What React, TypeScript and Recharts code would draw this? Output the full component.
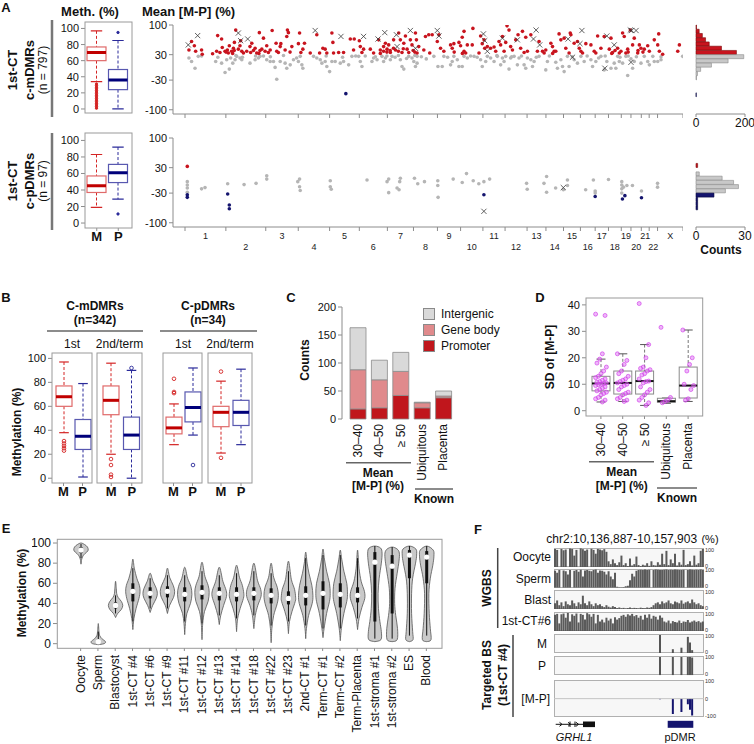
import React from "react";
import {
  BarChart, Bar, ComposedChart, ScatterChart, Scatter, XAxis, YAxis, Cell,
  ReferenceLine, Legend,
} from "recharts";

const FONT = '"Liberation Sans", Arial, Helvetica, sans-serif';

// ---------- Panel A: genome-wide mean [M-P] ----------
const chromNames = ["1","2","3","4","5","6","7","8","9","10","11","12","13","14","15","16","17","18","19","20","21","22","X"];
const chromSizes = [249,243,198,191,181,171,159,146,141,136,135,134,115,107,103,90,81,78,59,63,48,51,155];

// [cumulative position (Mb), mean M-P (%)]
const mdmrRed = [
  [24,41],[40,61],[57,51],[65,38],[101,41],[105,31],[168,32],[199,75],[223,67],[193,38],[213,35],[227,47],[244,38],[258,41],[264,34],[270,51],[284,38],[295,45],[301,59],[309,88],[325,43],[335,51],[339,63],[346,38],[356,34],[376,38],[396,49],[400,35],[407,57],[417,40],[427,45],[437,34],[453,82],[457,40],[468,43],[478,69],[488,38],[498,51],[508,35],[519,41],[531,87],[555,57],[559,38],[569,35],[580,49],[584,56],[610,41],[620,73],[624,88],[630,82],[651,49],[691,56],[698,81],[706,35],[718,43],[728,57],[763,34],[803,77],[820,34],[840,45],[854,43],[864,34],[895,81],[901,59],[905,34],[936,35],[966,35],[1007,67],[1031,67],[1027,41],[1062,63],[1068,49],[1078,35],[1088,43],[1129,43],[1149,34],[1180,65],[1190,41],[1210,49],[1221,57],[1231,43],[1241,53],[1251,35],[1271,65],[1282,41],[1302,81],[1312,65],[1322,35],[1333,57],[1343,74],[1353,43],[1363,35],[1373,65],[1383,53],[1404,81],[1410,65],[1414,34],[1424,49],[1455,41],[1465,73],[1485,77],[1491,34],
  [250,36],[290,33],[300,40],[450,33],[640,36],[1190,33],[1250,40],[1270,45],[1300,38],[1330,44],[1390,40],[1400,36],[1230,36],[1210,38],
  [1506,77],[1547,77],[1537,61],[1557,45],[1577,38],[1618,53],[1628,45],[1638,56],[1669,59],[1679,51],[1689,71],[1700,85],[1700,38],[1710,34],[1720,53],[1750,53],[1754,92],[1791,34],[1801,74],[1811,56],[1822,65],[1826,45],[1842,49],[1862,45],[1883,48],[1893,38],[1913,61],[1923,53],[1934,73],[1944,38],[1954,59],[1962,98],[1974,88],[1984,49],[1995,41],[2015,65],[2029,77],[2045,45],[2056,85],[2066,35],[2076,71],[2086,38],[2107,77],[2147,38],[2157,61],[2178,38],[2198,41],[2188,34],[2229,57],[2239,49],[2249,38],[2259,38],[2279,79],[2290,65],[2310,69],[2320,45],[2340,34],[2347,81],[2351,77],[2371,57],[2391,61],[2402,45],[2412,38],[2422,34],[2442,56],[2473,53],[2493,38],[2503,34],[2514,74],[2534,45],[2554,73],[2585,43],[2595,69],[2605,35],[2636,45],[2646,34],[2656,38],[2666,81],[2676,73],[2686,34],[2697,43],[2713,88],[2727,53],[2737,69],[2758,34],[2768,53],[2778,45],[2798,43],[2819,51],[2829,38],[2859,65],[2880,53],[2886,79],[2890,38],[2910,31],[3002,38],[3012,53],
  [1640,36],[1690,33],[2240,33],[2600,33],[2620,40],[2700,36],[2760,40],[2790,36],
];
const mdmrGrey = [
  [24,22],[40,14],[61,-2],[81,26],[101,27],[187,14],[223,10],[244,-12],[254,18],[270,-4],[278,22],[291,10],[305,18],[315,26],[335,22],[346,18],[396,10],[427,18],[447,22],[457,26],[478,27],[498,18],[519,14],[539,14],[549,0],[559,-28],[580,14],[610,10],[620,-2],[641,6],[661,18],[691,14],[702,26],[712,6],[718,-2],[783,26],[803,22],[824,18],[834,10],[854,14],[864,2],[881,-10],[895,14],[915,14],[946,10],[966,14],[997,6],[1017,26],[1058,26],[1068,14],[1078,2],[1098,27],[1139,14],[1149,22],[1170,18],[1200,26],[1210,14],[1221,22],[1251,18],[1261,26],[1312,18],[1322,2],[1333,-4],[1363,26],[1383,22],[1394,14],[1404,2],[1414,10],[1414,26],
  [200,24],[310,28],[350,24],[430,27],[520,25],[600,28],[680,22],[860,27],[960,24],[1040,27],[1160,25],[1230,27],[1280,24],[1300,28],[1350,21],[1400,28],[1440,25],[1470,20],
  [1516,26],[1541,2],[1567,2],[1577,26],[1618,6],[1628,14],[1638,26],[1659,18],[1669,2],[1689,2],[1700,26],[1720,22],[1761,26],[1801,18],[1811,2],[1832,14],[1842,26],[1862,22],[1883,14],[1903,26],[1923,6],[1934,22],[1944,14],[1954,26],[1974,-4],[1984,22],[2005,26],[2025,6],[2035,22],[2066,6],[2076,-2],[2086,22],[2107,18],[2117,2],[2127,14],[2157,26],[2198,-6],[2208,14],[2259,12],[2269,-2],[2290,18],[2300,2],[2310,-10],[2330,26],[2340,2],[2371,18],[2391,10],[2412,26],[2432,14],[2473,18],[2483,2],[2503,14],[2534,26],[2554,-6],[2570,14],[2595,-2],[2615,10],[2625,-2],[2636,26],[2646,14],[2666,10],[2686,26],[2697,-19],[2717,20],[2727,-2],[2737,14],[2778,10],[2798,26],[2819,14],[2829,6],[2859,14],[2880,14],[2900,18],[3032,26],
  [1600,24],[1740,27],[1780,24],[1900,28],[1990,25],[2050,27],[2140,24],[2220,27],[2360,25],[2450,27],[2520,22],[2560,27],[2650,24],[2700,27],[2750,25],[2850,26],[2900,25],
];
const mdmrKnown = [
  [20,53],[77,75],[325,81],[339,63],[382,67],[793,87],[950,73],[1088,73],[1176,67],[1217,82],[1288,77],[1292,49],[1373,87],[1404,45],
  [1537,87],[1547,74],[1818,79],[1826,63],[1842,38],[1934,69],[2025,65],[2123,67],[2139,88],[2161,53],[2334,67],[2361,24],[2406,56],[2418,87],[2570,74],[2615,53],[2558,-2],[2713,88],[2721,87],[2748,87],[2717,12],
];
const mdmrNeg = [[980,-62]];

const pdmrPos = [[14,33]];
const pdmrBlue = [[14,-34],[14,-40],[260,-32],[270,-58],[270,-67],[1821,-34],[2499,-38],[2665,-44],[2680,-36],[2781,-41]];
const pdmrKnown = [[1821,-73],[2305,-17]];
const pdmrGrey = [
  [14,-3],[14,-11],[14,-18],[14,-28],[101,-20],[122,-17],[260,-8],[360,-10],[433,-7],[498,11],[498,3],[687,-3],[698,3],[698,-15],[702,-24],[885,-1],[891,-21],[885,-15],[1109,1],[1231,-3],[1241,3],[1241,-29],[1292,-18],[1304,-22],[1308,-3],[1312,5],[1398,5],[1418,-8],[1459,-3],[1540,-1],[1540,-12],[1542,-40],[1634,3],[1689,-5],[1715,16],[1756,-1],[1790,-8],[1821,-3],[1856,3],[2081,-7],[2085,-21],[2187,-7],[2203,9],[2203,-28],[2258,-18],[2305,-22],[2330,1],[2330,-12],[2441,-22],[2488,1],[2499,-25],[2499,-30],[2580,2],[2661,-3],[2661,-11],[2661,-20],[2661,-30],[2671,-16],[2692,-12],[2726,-12],[2781,-25],[2879,-7],[2879,-16],
];

// histogram bins (lower bound, 10% wide), counts
const histBins = ["90","80","70","60","50","40","30","20","10","0","-10","-20","-30","-40","-50","-60","-70","-80","-90","-100","-110"];
const mdmrHist = [2,13,26,39,54,104,165,195,131,63,19,6,2,0,0,0,1,0,0,0,0];
const pdmrHist = [0,0,0,0,0,0,1,0,2,16,23,26,18,11,1,1,1,0,0,0,0];

// box stats: [whisker low, Q1, median, Q3, whisker high]
const boxCats = ["M", "P"];
const aMdmrBox = [[34,60,70,77,97],[0,24,36,49,85]];
const aMdmrOut = [[31,29,27,25,23,21,19,17,15,13,11,9,7,5,3,1],[95]];
const aPdmrBox = [[19,37,45,57,83],[29,49,61,71,92]];
const aPdmrOut = [[],[11]];

// ---------- Panel B ----------
const b1Box = [[38,60,68,77,97],[1,24,35,49,79]];
const b1Out = [[31,29,27,25,23],[]];
const b2Box = [[20,53,65,77,96],[0,24,36,51,90]];
const b2Out = [[16,11,3,1],[92]];
const b3Box = [[28,37,42,51,62],[36,47,59,72,92]];
const b3Out = [[83,72,71],[11]];
const b4Box = [[21,43,55,60,81],[28,44,55,65,91]];
const b4Out = [[89,17],[]];

// ---------- Panel C ----------
const cCats = ["30–40","40–50","≥ 50","Ubiquitous","Placenta"];
const cPromoter = [18,20,42,20,38];
const cGeneBody = [70,50,43,9,3];
const cIntergenic = [75,35,34,1,9];

// ---------- Panel D ----------
const dCats = cCats;
const dBox = [[3.3,7.5,10.3,13,19.5],[3.5,6.3,10.5,15,21.5],[2,6.3,11.2,15,25],[2.8,3.2,3.6,4.7,4.8],[3.5,4.8,9.5,16.5,30.5]];
const dPoints = [
  [36.5,36,21.5,19.5,18,16.5,15,14,13,12.5,12,11.5,11,10.8,10.5,10.3,10,9.8,9.5,9,8.5,8,7.5,7,6.5,6,5,4.5,4,3.3],
  [21.5,19,17.5,15,14,13,12,11.5,11,10.5,10,9.5,9,8,7,6.5,6,5,4.5,4,3.5],
  [40.5,25,20,16.5,16,15.5,15,14,13.5,12,11.2,11,10.5,9,8,7,6,5,4,3,2],
  [31.5,5,4,3.5,3],
  [30.5,20,17.5,15,10,9.5,8,4.5,4],
];

// ---------- Panel E ----------
const eSamples = ["Oocyte","Sperm","Blastocyst","1st-CT #4","1st-CT #6","1st-CT #9","1st-CT #11","1st-CT #12","1st-CT #13","1st-CT #14","1st-CT #18","1st-CT #22","1st-CT #23","2nd-CT #1","Term-CT #1","Term-CT #2","Term-Placenta","1st-stroma #1","1st-stroma #2","ES","Blood"];
const eStats = [
  [85,90,93,96,99],[0,0.5,2,4,12],[30,35,38,41,48],[22,42,52,60,75],[35,45,50,56,65],
  [35,46,52,57,68],[22,42,49,56,68],[20,44,51,58,72],[28,43,50,56,68],[25,42,49,56,70],
  [28,43,50,56,72],[18,40,48,55,70],[22,39,45,52,72],[18,38,48,57,85],[15,34,50,62,88],
  [15,36,49,60,88],[25,41,48,56,85],[5,22,81,91,97],[5,30,77,88,96],[8,65,88,93,97],[8,60,86,92,97],
];
// density outline: [methylation, relative half-width]
const eProfiles = [
  [[79,0],[84,0.1],[88,0.35],[91,0.8],[93,1],[96,0.9],[98.5,0.5],[100,0]],
  [[-1,0],[0,0.8],[2,1],[5,0.5],[8,0.2],[12,0.1],[20,0]],
  [[26,0],[30,0.3],[34,0.8],[38,1],[42,0.8],[46,0.35],[50,0.15],[55,0.1],[62,0]],
  [[14,0],[25,0.15],[35,0.45],[45,0.85],[52,1],[58,0.9],[65,0.55],[75,0.2],[84,0]],
  [[31,0],[38,0.35],[45,0.85],[50,1],[55,0.85],[62,0.4],[70,0]],
  [[30,0],[38,0.3],[46,0.85],[52,1],[58,0.8],[66,0.3],[75,0]],
  [[9,0],[20,0.1],[30,0.3],[40,0.8],[49,1],[57,0.85],[65,0.4],[76,0]],
  [[4,0],[20,0.1],[32,0.35],[42,0.85],[51,1],[58,0.85],[67,0.4],[81,0]],
  [[19,0],[28,0.2],[38,0.6],[47,1],[53,0.95],[62,0.5],[76,0]],
  [[12,0],[25,0.15],[35,0.5],[45,0.95],[50,1],[58,0.8],[66,0.4],[78,0]],
  [[15,0],[28,0.2],[38,0.55],[47,1],[54,0.95],[63,0.5],[80,0]],
  [[1,0],[15,0.1],[28,0.35],[40,0.85],[48,1],[56,0.85],[66,0.35],[80,0]],
  [[10,0],[22,0.15],[32,0.5],[42,0.95],[46,1],[54,0.85],[64,0.4],[82,0]],
  [[5,0],[15,0.1],[28,0.4],[40,0.9],[48,1],[58,0.85],[70,0.45],[80,0.2],[91,0]],
  [[6,0],[15,0.15],[30,0.5],[42,0.9],[50,1],[60,0.9],[72,0.5],[84,0.2],[94,0]],
  [[3,0],[15,0.15],[30,0.5],[42,0.9],[49,1],[60,0.9],[72,0.5],[84,0.2],[93,0]],
  [[14,0],[25,0.2],[36,0.6],[45,1],[52,0.95],[62,0.5],[75,0.2],[93,0]],
  [[2,0],[4,0.85],[12,0.9],[22,0.7],[35,0.5],[50,0.45],[65,0.6],[80,0.9],[90,1],[95,0.8],[97,0]],
  [[2,0],[4,0.7],[15,0.75],[28,0.5],[40,0.35],[55,0.4],[70,0.7],[82,0.95],[90,1],[94,0.7],[96,0]],
  [[2,0],[4,0.5],[12,0.45],[30,0.3],[50,0.3],[65,0.45],[80,0.85],[88,1],[94,0.9],[97,0]],
  [[2,0],[4,0.6],[15,0.5],[30,0.35],[50,0.3],[65,0.5],[78,0.85],[87,1],[93,0.9],[97,0]],
];

// ---------- Panel F: methylation tracks (70 bins) ----------
const oocyteMeth = [95,90,0,95,88,92,0,97,95,60,90,0,98,94,85,92,0,96,90,70,95,92,88,94,80,30,15,40,20,10,25,60,10,20,5,45,8,15,55,10,5,12,8,20,6,30,10,8,25,12,70,15,85,10,40,20,70,8,25,12,90,10,15,30,8,60,12,20,85,95];
const spermMeth = [90,80,95,0,92,88,70,95,0,90,94,85,96,60,92,95,90,88,94,97,80,92,90,85,70,88,60,45,80,5,3,2,4,8,10,40,75,60,90,95,96,94,97,95,96,0,95,97,96,95,94,96,97,95,96,95,97,96,95,94,96,0,95,97,96,95,96,94,97,95];
const blastMeth = [30,45,20,35,15,40,25,20,45,30,15,35,25,70,30,20,40,25,15,30,20,25,15,10,20,12,8,15,10,5,8,4,6,3,5,8,4,6,5,3,7,5,4,8,6,10,20,30,35,25,40,30,35,45,30,25,40,35,30,45,28,35,40,30,50,35,25,30,20,15];
const ct6Meth = [85,90,40,88,92,70,95,50,88,80,92,45,90,85,60,94,88,75,90,40,85,50,60,45,70,55,65,40,72,60,68,80,85,75,88,82,90,78,84,70,80,60,85,70,88,65,80,75,60,82,70,50,45,55,40,52,48,45,55,42,50,48,58,45,50,55,48,52,45,50];
// targeted BS: [bin, value]
const targetM = [[49,95],[55,20],[59,28],[62,85],[63,55],[64,15]];
const targetP = [[49,95],[55,95],[59,95],[62,95],[63,95],[64,92]];
const targetMP = [[49,-3],[55,-82],[59,-72],[62,-30],[63,-60],[64,-90]];

// ---------- derived tables ----------
const chromStarts: number[] = [];
let acc = 0;
chromSizes.forEach((s) => { chromStarts.push(acc); acc += s; });
const genomeLen = acc;
const chromBounds = [...chromStarts, genomeLen];
const chromMids = chromStarts.map((s, i) => s + chromSizes[i] / 2);
const genomeTicks = [...chromBounds, ...chromMids];

const toXY = (a: number[][]) => a.map(([x, y]) => ({ x, y }));
const boxRows = (stats: number[][], outs: number[][], cats: string[] = boxCats) =>
  cats.map((cat, i) => ({ cat, lo: stats[i][0], q1: stats[i][1], med: stats[i][2], q3: stats[i][3], hi: stats[i][4], out: outs[i] }));

const cRows = cCats.map((cat, i) => ({ cat, promoter: cPromoter[i], gene: cGeneBody[i], inter: cIntergenic[i] }));
const dRows = dCats.map((cat, i) => ({ cat, lo: dBox[i][0], q1: dBox[i][1], med: dBox[i][2], q3: dBox[i][3], hi: dBox[i][4], pts: dPoints[i] }));
const eRows = eSamples.map((cat, i) => ({
  cat, lo: eStats[i][0], q1: eStats[i][1], med: eStats[i][2], q3: eStats[i][3], hi: eStats[i][4],
  prof: eProfiles[i], vmin: eProfiles[i][0][0], vmax: eProfiles[i][eProfiles[i].length - 1][0],
}));
const sparse = (pairs: number[][]) => { const m = new Map(pairs.map(([b, v]) => [b, v])); return (i: number) => m.get(i) ?? 0; };
const tM = sparse(targetM), tP = sparse(targetP), tMP = sparse(targetMP);
const trackRows = oocyteMeth.map((_, i) => ({
  i, oocyte: oocyteMeth[i], sperm: spermMeth[i], blast: blastMeth[i], ct6: ct6Meth[i], m: tM(i), p: tP(i), mp: tMP(i),
}));

// ---------- styles ----------
const RED = "#c8141e";
const NAVY = "#14146e";
const GREY = "#b5b5b5";
const AXIS = "#8c8c8c";
const boxColors: Record<string, { edge: string; whisk: string; med: string }> = {
  M: { edge: "#e06a6a", whisk: "#d42424", med: "#c00000" },
  P: { edge: "#5858b0", whisk: "#2a2a9a", med: "#00007a" },
};
const cColors = { inter: "#d9d9d9", gene: "#e08a8c", promoter: "#c0161c" };
const histFill = (i: number) => { const lo = +histBins[i]; return lo >= 30 ? RED : lo <= -40 ? NAVY : "#c8c8c8"; };
const histStroke = (i: number) => { const lo = +histBins[i]; return lo >= 30 ? "#7a0a0a" : lo <= -40 ? "#0a0a40" : "#8a8a8a"; };

// ---------- shapes ----------
const dot = (fill: string, r: number) => (p: any) => <circle cx={p.cx} cy={p.cy} r={r} fill={fill} />;
const cross = (p: any) => (
  <path d={`M${p.cx - 2.6},${p.cy - 2.6}L${p.cx + 2.6},${p.cy + 2.6}M${p.cx - 2.6},${p.cy + 2.6}L${p.cx + 2.6},${p.cy - 2.6}`} stroke="#3a3a3a" strokeWidth={0.8} fill="none" />
);

const makeBoxShape = (outR: number, hollow: boolean) => (p: any) => {
  const { x, y, width, height, payload: d } = p;
  if (!d || !(height > 0)) return <g />;
  const c = boxColors[d.cat];
  const k = height / (d.q3 - d.q1);
  const py = (v: number) => y + (d.q3 - v) * k;
  const cx = x + width / 2;
  const cap = width * 0.3;
  return (
    <g>
      <line x1={cx} x2={cx} y1={py(d.hi)} y2={y} stroke={c.whisk} strokeDasharray="3 2" />
      <line x1={cx} x2={cx} y1={y + height} y2={py(d.lo)} stroke={c.whisk} strokeDasharray="3 2" />
      <line x1={cx - cap} x2={cx + cap} y1={py(d.hi)} y2={py(d.hi)} stroke={c.whisk} strokeWidth={1.2} />
      <line x1={cx - cap} x2={cx + cap} y1={py(d.lo)} y2={py(d.lo)} stroke={c.whisk} strokeWidth={1.2} />
      <rect x={x} y={y} width={width} height={height} fill="#fff" stroke={c.edge} strokeWidth={1.2} />
      <line x1={x} x2={x + width} y1={py(d.med)} y2={py(d.med)} stroke={c.med} strokeWidth={3} />
      {d.out.map((v: number, i: number) => (
        <circle key={i} cx={cx} cy={py(v)} r={outR} fill={hollow ? "none" : c.whisk} stroke={c.whisk} strokeWidth={0.9} />
      ))}
    </g>
  );
};
const aBoxShape = makeBoxShape(1.2, false);
const bBoxShape = makeBoxShape(1.8, true);

const dBoxShape = (p: any) => {
  const { x, y, width, height, payload: d } = p;
  if (!d || !(height > 0)) return <g />;
  const k = height / (d.q3 - d.q1);
  const py = (v: number) => y + (d.q3 - v) * k;
  const cx = x + width / 2;
  const cap = width * 0.25;
  return (
    <g>
      <line x1={cx} x2={cx} y1={py(d.hi)} y2={y} stroke="#777" strokeDasharray="3 2" />
      <line x1={cx} x2={cx} y1={y + height} y2={py(d.lo)} stroke="#777" strokeDasharray="3 2" />
      <line x1={cx - cap} x2={cx + cap} y1={py(d.hi)} y2={py(d.hi)} stroke="#555" />
      <line x1={cx - cap} x2={cx + cap} y1={py(d.lo)} y2={py(d.lo)} stroke="#555" />
      <rect x={x} y={y} width={width} height={height} fill="#fff" stroke="#8a8a8a" />
      <line x1={x} x2={x + width} y1={py(d.med)} y2={py(d.med)} stroke="#111" strokeWidth={2} />
      {d.pts.map((v: number, i: number) => (
        <circle key={i} cx={cx + (((i * 7) % 9) / 8 - 0.5) * width * 0.6} cy={py(v)} r={2}
          fill="#e27af5" fillOpacity={0.55} stroke="#cc33e6" strokeWidth={0.6} />
      ))}
    </g>
  );
};

const smoothPath = (pts: number[][]) => {
  let d = `M${pts[0][0]},${pts[0][1]}`;
  for (let i = 0; i < pts.length - 1; i++) {
    const p0 = pts[Math.max(i - 1, 0)], p1 = pts[i], p2 = pts[i + 1], p3 = pts[Math.min(i + 2, pts.length - 1)];
    const c1x = p1[0] + (p2[0] - p0[0]) / 6, c1y = p1[1] + (p2[1] - p0[1]) / 6;
    const c2x = p2[0] - (p3[0] - p1[0]) / 6, c2y = p2[1] - (p3[1] - p1[1]) / 6;
    d += ` C${c1x},${c1y} ${c2x},${c2y} ${p2[0]},${p2[1]}`;
  }
  return d + " Z";
};

const violinShape = (p: any) => {
  const { x, y, width, height, payload: d } = p;
  if (!d || !(height > 0)) return <g />;
  const k = height / (d.vmax - d.vmin);
  const py = (v: number) => y + (d.vmax - v) * k;
  const cx = x + width / 2;
  const W = 7.2;
  const right = d.prof.map(([v, w]: number[]) => [cx + w * W, py(v)]);
  const left = d.prof.slice().reverse().map(([v, w]: number[]) => [cx - w * W, py(v)]);
  const pts = [...right, ...left.slice(1)];
  return (
    <g>
      <path d={smoothPath(pts)} fill="#c9c9c9" stroke="#555" strokeWidth={0.8} />
      <line x1={cx} x2={cx} y1={py(d.hi)} y2={py(d.lo)} stroke="#111" strokeWidth={1} />
      <line x1={cx} x2={cx} y1={py(d.q3)} y2={py(d.q1)} stroke="#111" strokeWidth={3} />
      <circle cx={cx} cy={py(d.med)} r={2.6} fill="#fff" />
    </g>
  );
};

const chromTick = (labels: boolean) => (p: any) => {
  const v = p.payload.value;
  const { x, y } = p;
  if (chromBounds.includes(v)) return <line x1={x} x2={x} y1={y} y2={y + 4} stroke={AXIS} />;
  const i = chromMids.indexOf(v);
  if (!labels || i < 0) return <g />;
  return (
    <text x={x} y={y + (i % 2 ? 20 : 9)} textAnchor="middle" dominantBaseline="central" fontSize={9} fill="#222">
      {chromNames[i]}
    </text>
  );
};

const rotTick = (gap: number, fs: number) => (p: any) => (
  <text x={p.x} y={p.y + gap} transform={`rotate(-90 ${p.x} ${p.y + gap})`} textAnchor="end"
    dominantBaseline="central" fontSize={fs} fill="#111">
    {p.payload.value}
  </text>
);

const yTick = (fs: number) => (p: any) => (
  <text x={p.x} y={p.y} textAnchor="end" dominantBaseline="central" fontSize={fs} fill="#111">
    {p.payload.value}
  </text>
);

// small right-hand labels of the genome tracks, nudged inside the track edges
const trackTick = (p: any) => {
  const v = p.payload.value;
  const dy = v > 0 ? 1.5 : v < 0 ? -1.5 : 0;
  return (
    <text x={p.x} y={p.y + dy} textAnchor="start" dominantBaseline="central" fontSize={5.5} fill="#333">{v}</text>
  );
};
const trackTickBottomZero = (p: any) => {
  const v = p.payload.value;
  const dy = v === 100 ? 1.5 : -1.5;
  return (
    <text x={p.x} y={p.y + dy} textAnchor="start" dominantBaseline="central" fontSize={5.5} fill="#333">{v}</text>
  );
};

// ---------- chart blocks ----------
function GenomeScatter({ top, xH, labels, layers }: any) {
  return (
    <div style={{ position: "absolute", left: 133, top: top - 6 }}>
      <ScatterChart width={550} height={6 + 89 + xH} margin={{ top: 6, right: 0, bottom: 0, left: 0 }}>
        <XAxis type="number" dataKey="x" domain={[0, genomeLen]} ticks={genomeTicks} interval={0}
          padding={{ left: 12, right: 0 }} height={xH} tickSize={0} tickMargin={0} tickLine={false}
          axisLine={{ stroke: AXIS }} tick={chromTick(labels)} allowDataOverflow />
        <YAxis type="number" dataKey="y" domain={[-110, 100]} ticks={[100, 30, -30, -100]} interval={0}
          width={40} tickSize={4} tickMargin={2} axisLine={{ stroke: AXIS }} tickLine={{ stroke: AXIS }}
          tick={yTick(11)} allowDataOverflow />
        {layers.map((l: any, i: number) => (
          <Scatter key={i} data={toXY(l.data)} shape={l.shape} isAnimationActive={false} />
        ))}
      </ScatterChart>
    </div>
  );
}

function Histo({ top, counts, max }: any) {
  const rows = histBins.map((b, i) => ({ bin: b, n: counts[i] }));
  return (
    <div style={{ position: "absolute", left: 692, top: top - 6 }}>
      <BarChart layout="vertical" width={65} height={111} data={rows} barCategoryGap={0}
        margin={{ top: 6, right: 12, bottom: 0, left: 0 }}>
        <YAxis type="category" dataKey="bin" hide />
        <YAxis yAxisId="v" type="number" domain={[-110, 100]} ticks={[100, 30, -30, -100]} tick={false}
          tickSize={3} width={4} axisLine={{ stroke: AXIS }} tickLine={{ stroke: AXIS }} allowDataOverflow />
        <XAxis type="number" domain={[0, max]} ticks={[0, max]} height={16} tickSize={3} tickMargin={1}
          axisLine={{ stroke: AXIS }} tickLine={{ stroke: AXIS }} tick={{ fontSize: 12, fill: "#111" }} interval={0} />
        <Bar dataKey="n" isAnimationActive={false}>
          {rows.map((_, i) => <Cell key={i} fill={histFill(i)} stroke={histStroke(i)} strokeWidth={0.6} />)}
        </Bar>
      </BarChart>
    </div>
  );
}

function BoxPlot({ left, top, yW, plotW, plotH, xH, rows, domain, ticks, showY, showX, barSize, pad, shape }: any) {
  return (
    <div style={{ position: "absolute", left: left - yW, top }}>
      <ComposedChart width={yW + plotW} height={plotH + xH} data={rows} margin={{ top: 0, right: 0, bottom: 0, left: 0 }}>
        <XAxis dataKey="cat" type="category" height={xH} padding={pad} axisLine={false} tickSize={3} tickMargin={1}
          tickLine={{ stroke: AXIS }} interval={0}
          tick={showX ? { fontSize: 13, fontWeight: "bold", fill: "#111" } : false} />
        <YAxis type="number" domain={domain} ticks={ticks} width={yW} allowDataOverflow axisLine={false}
          tickSize={4} tickMargin={2} tickLine={{ stroke: AXIS }} interval={0}
          tick={showY ? yTick(11) : false} />
        <Bar dataKey={(d: any) => [d.q1, d.q3]} barSize={barSize} shape={shape} isAnimationActive={false} />
      </ComposedChart>
    </div>
  );
}

const trackDefs = [
  { key: "oocyte", top: 547.7, h: 19 },
  { key: "sperm", top: 569, h: 18.7 },
  { key: "blast", top: 590, h: 19 },
  { key: "ct6", top: 611.7, h: 19 },
  { key: "m", top: 634.3, h: 19 },
  { key: "p", top: 655.7, h: 19.3 },
];

function Track({ top, h, dataKey, domain, ticks, fill, zero }: any) {
  return (
    <>
      <div style={{ position: "absolute", left: 554, top, width: 150, height: h, boxSizing: "border-box",
        background: "#f7f7f7", border: "1px solid #b0b0b0" }} />
      <div style={{ position: "absolute", left: 554, top: top - 4 }}>
        <BarChart width={172} height={h + 8} data={trackRows} barCategoryGap={0} barGap={0}
          margin={{ top: 4, right: 0, bottom: 4, left: 0 }}>
          <XAxis dataKey="i" hide />
          <YAxis orientation="right" domain={domain} ticks={ticks} width={22} interval={0} allowDataOverflow
            tick={zero ? trackTick : trackTickBottomZero} tickLine={false} axisLine={false} tickMargin={1} tickSize={0} />
          {zero && <ReferenceLine y={0} stroke="#c4c4c4" />}
          <Bar dataKey={dataKey} fill={fill} isAnimationActive={false} />
        </BarChart>
      </div>
    </>
  );
}

const Txt = ({ x, y, s = 12, b, a = "middle", r, i, children }: any) => (
  <text x={x} y={y} fontSize={s} fontWeight={b ? "bold" : "normal"} fontStyle={i ? "italic" : "normal"}
    textAnchor={a} dominantBaseline="central" fill="#111"
    transform={r ? `rotate(-90 ${x} ${y})` : undefined}>
    {children}
  </text>
);

const Frame = ({ x1, y1, x2, y2 }: any) => (
  <rect x={x1} y={y1} width={x2 - x1} height={y2 - y1} fill="none" stroke="#9a9a9a" strokeWidth={1} />
);

const cLegend = [
  { label: "Intergenic", key: "inter" },
  { label: "Gene body", key: "gene" },
  { label: "Promoter", key: "promoter" },
];

export default function App() {
  return (
    <div style={{ position: "absolute", left: 0, top: 0, width: 754, height: 744, background: "#fff",
      fontFamily: FONT, overflow: "hidden" }}>
      {/* A: boxplots */}
      <BoxPlot left={85} top={22} yW={40} plotW={47} plotH={91} xH={5} rows={boxRows(aMdmrBox, aMdmrOut)}
        domain={[-5, 108]} ticks={[0, 20, 40, 60, 80, 100]} showY showX={false} barSize={19}
        pad={{ left: 1, right: 3 }} shape={aBoxShape} />
      <BoxPlot left={85} top={133} yW={40} plotW={47} plotH={95} xH={20} rows={boxRows(aPdmrBox, aPdmrOut)}
        domain={[-6, 109]} ticks={[0, 20, 40, 60, 80, 100]} showY showX barSize={19}
        pad={{ left: 1, right: 3 }} shape={aBoxShape} />

      {/* A: scatter along genome */}
      <GenomeScatter top={25} xH={6} labels={false} layers={[
        { data: mdmrGrey, shape: dot(GREY, 1.8) },
        { data: mdmrRed, shape: dot(RED, 1.8) },
        { data: mdmrKnown, shape: cross },
        { data: mdmrNeg, shape: dot(NAVY, 1.8) },
      ]} />
      <GenomeScatter top={138} xH={26} labels layers={[
        { data: pdmrGrey, shape: dot(GREY, 1.8) },
        { data: pdmrPos, shape: dot(RED, 1.8) },
        { data: pdmrBlue, shape: dot(NAVY, 1.8) },
        { data: pdmrKnown, shape: cross },
      ]} />

      {/* A: histograms */}
      <Histo top={25} counts={mdmrHist} max={200} />
      <Histo top={138} counts={pdmrHist} max={30} />

      {/* B */}
      <BoxPlot left={52} top={353} yW={40} plotW={40} plotH={130} xH={20} rows={boxRows(b1Box, b1Out)}
        domain={[-4, 104.5]} ticks={[0, 20, 40, 60, 80, 100]} showY showX barSize={16}
        pad={{ left: 2, right: 0 }} shape={bBoxShape} />
      <BoxPlot left={97} top={353} yW={5} plotW={45} plotH={130} xH={20} rows={boxRows(b2Box, b2Out)}
        domain={[-4, 104.5]} ticks={[0, 20, 40, 60, 80, 100]} showY={false} showX barSize={16}
        pad={{ left: 4, right: 0 }} shape={bBoxShape} />
      <BoxPlot left={163} top={353} yW={5} plotW={39} plotH={130} xH={20} rows={boxRows(b3Box, b3Out)}
        domain={[-4, 104.5]} ticks={[0, 20, 40, 60, 80, 100]} showY={false} showX barSize={16}
        pad={{ left: 1, right: 0 }} shape={bBoxShape} />
      <BoxPlot left={208} top={353} yW={5} plotW={44} plotH={130} xH={20} rows={boxRows(b4Box, b4Out)}
        domain={[-4, 104.5]} ticks={[0, 20, 40, 60, 80, 100]} showY={false} showX barSize={16}
        pad={{ left: 3, right: 1 }} shape={bBoxShape} />

      {/* C */}
      <div style={{ position: "absolute", left: 312, top: 299 }}>
        <BarChart width={142} height={194} data={cRows} margin={{ top: 8, right: 0, bottom: 0, left: 0 }}>
          <XAxis dataKey="cat" type="category" height={74} padding={{ left: 5, right: 0 }} axisLine={false}
            tickLine={false} tickSize={0} tickMargin={0} interval={0} tick={rotTick(5, 12)} />
          <YAxis type="number" domain={[0, 200]} ticks={[0, 50, 100, 150, 200]} width={30} tickSize={4}
            tickMargin={2} axisLine={{ stroke: AXIS }} tickLine={{ stroke: AXIS }} tick={yTick(11)} interval={0} />
          <Legend layout="vertical" align="center" verticalAlign="middle"
            wrapperStyle={{ left: 111, top: 7, width: "auto", height: "auto" }}
            content={() => (
              <div style={{ fontFamily: FONT, fontSize: 12, color: "#111", lineHeight: "16px", whiteSpace: "nowrap" }}>
                {cLegend.map((l) => (
                  <div key={l.key} style={{ display: "flex", alignItems: "center", height: 16 }}>
                    <span style={{ display: "inline-block", width: 10, height: 10, marginRight: 6,
                      background: (cColors as any)[l.key], border: "1px solid #8a8a8a" }} />
                    {l.label}
                  </div>
                ))}
              </div>
            )} />
          <Bar dataKey="promoter" stackId="s" barSize={16} fill={cColors.promoter} stroke="#8a8a8a" strokeWidth={0.8} isAnimationActive={false} />
          <Bar dataKey="gene" stackId="s" barSize={16} fill={cColors.gene} stroke="#8a8a8a" strokeWidth={0.8} isAnimationActive={false} />
          <Bar dataKey="inter" stackId="s" barSize={16} fill={cColors.inter} stroke="#8a8a8a" strokeWidth={0.8} isAnimationActive={false} />
        </BarChart>
      </div>

      {/* D */}
      <div style={{ position: "absolute", left: 566, top: 298 }}>
        <ComposedChart width={137} height={194} data={dRows} margin={{ top: 0, right: 0, bottom: 0, left: 0 }}>
          <XAxis dataKey="cat" type="category" height={76} padding={{ left: 4, right: 4 }} axisLine={false}
            tickSize={3} tickMargin={0} tickLine={{ stroke: AXIS }} interval={0} tick={rotTick(4, 12)} />
          <YAxis type="number" domain={[-2, 42.6]} ticks={[0, 10, 20, 30, 40]} width={20} allowDataOverflow
            axisLine={false} tickSize={4} tickMargin={2} tickLine={{ stroke: AXIS }} tick={yTick(11)} interval={0} />
          <Bar dataKey={(d: any) => [d.q1, d.q3]} barSize={18} shape={dBoxShape} isAnimationActive={false} />
        </ComposedChart>
      </div>

      {/* E */}
      <div style={{ position: "absolute", left: 32, top: 533.3 }}>
        <ComposedChart width={410} height={206} data={eRows} margin={{ top: 6, right: 0, bottom: 0, left: 0 }}>
          <XAxis dataKey="cat" type="category" height={91} padding={{ left: 15, right: 7 }} axisLine={false}
            tickSize={3} tickMargin={0} tickLine={{ stroke: AXIS }} interval={0} tick={rotTick(4, 12)} />
          <YAxis type="number" domain={[-4.3, 104]} ticks={[0, 20, 40, 60, 80, 100]} width={25} allowDataOverflow
            axisLine={false} tickSize={4} tickMargin={2} tickLine={{ stroke: AXIS }} tick={yTick(12)} interval={0} />
          <Bar dataKey={(d: any) => [d.vmin, d.vmax]} barSize={14} shape={violinShape} isAnimationActive={false} />
        </ComposedChart>
      </div>

      {/* F */}
      {trackDefs.map((t, k) => (
        <Track key={t.key} top={t.top} h={t.h} dataKey={t.key} domain={[0, 100]} ticks={[0, 100]}
          fill={k < 4 ? "#5a5a5a" : "#555"} />
      ))}
      <Track top={680} h={37.3} dataKey="mp" domain={[-100, 100]} ticks={[-100, 0, 100]} fill={NAVY} zero />

      {/* annotations */}
      <svg width={754} height={744} style={{ position: "absolute", left: 0, top: 0, pointerEvents: "none" }}
        fontFamily={FONT}>
        <Frame x1={85} y1={22} x2={132} y2={113} />
        <Frame x1={85} y1={133} x2={132} y2={228} />
        <Frame x1={52} y1={353} x2={92} y2={483} />
        <Frame x1={97} y1={353} x2={142} y2={483} />
        <Frame x1={163} y1={353} x2={202} y2={483} />
        <Frame x1={208} y1={353} x2={252} y2={483} />
        <Frame x1={586} y1={298} x2={702.7} y2={416} />
        <Frame x1={57.3} y1={539.3} x2={442} y2={648.3} />

        {/* A */}
        <Txt x={6} y={7} s={13} b>A</Txt>
        <Txt x={90} y={11} s={13} b>Meth. (%)</Txt>
        <Txt x={142} y={11} s={13} b a="start">Mean [M-P] (%)</Txt>
        <Txt x={12} y={70} s={13} b r>1st-CT</Txt>
        <Txt x={29} y={70} s={13} b r>c-mDMRs</Txt>
        <Txt x={43} y={70} s={12} r>(n = 797)</Txt>
        <Txt x={12} y={181} s={13} b r>1st-CT</Txt>
        <Txt x={29} y={181} s={13} b r>c-pDMRs</Txt>
        <Txt x={43} y={181} s={12} r>(n = 97)</Txt>
        <line x1={52} x2={52} y1={20} y2={117} stroke="#777" strokeWidth={2.5} />
        <line x1={52} x2={52} y1={133} y2={230} stroke="#777" strokeWidth={2.5} />
        <Txt x={721} y={250} s={12} b>Counts</Txt>

        {/* B */}
        <Txt x={6} y={297} s={13} b>B</Txt>
        <Txt x={95} y={305.5} s={12} b>C-mDMRs</Txt>
        <Txt x={95} y={319.5} s={12} b>(n=342)</Txt>
        <line x1={47} x2={143} y1={331} y2={331} stroke="#666" strokeWidth={1.5} />
        <Txt x={208} y={305.5} s={12} b>C-pDMRs</Txt>
        <Txt x={208} y={319.5} s={12} b>(n=34)</Txt>
        <line x1={160} x2={257} y1={331} y2={331} stroke="#666" strokeWidth={1.5} />
        <Txt x={72} y={344} s={12}>1st</Txt>
        <Txt x={119.5} y={344} s={12}>2nd/term</Txt>
        <Txt x={183} y={344} s={12}>1st</Txt>
        <Txt x={230} y={344} s={12}>2nd/term</Txt>
        <Txt x={17} y={432} s={12} b r>Methylation (%)</Txt>

        {/* C */}
        <Txt x={291} y={297} s={13} b>C</Txt>
        <Txt x={305} y={360} s={12} b r>Counts</Txt>
        <line x1={346} x2={411} y1={462.7} y2={462.7} stroke="#666" strokeWidth={1.5} />
        <Txt x={378} y={473} s={12} b>Mean</Txt>
        <Txt x={378} y={486} s={12} b>[M-P] (%)</Txt>
        <line x1={415} x2={453} y1={489} y2={489} stroke="#666" strokeWidth={1.5} />
        <Txt x={434} y={499} s={12} b>Known</Txt>

        {/* D */}
        <Txt x={540} y={297} s={13} b>D</Txt>
        <Txt x={550} y={357} s={12} b r>SD of [M-P]</Txt>
        <line x1={589} x2={654} y1={461.7} y2={461.7} stroke="#666" strokeWidth={1.5} />
        <Txt x={621.7} y={472} s={12} b>Mean</Txt>
        <Txt x={621.7} y={486} s={12} b>[M-P] (%)</Txt>
        <line x1={657} x2={697} y1={488} y2={488} stroke="#666" strokeWidth={1.5} />
        <Txt x={677} y={498} s={12} b>Known</Txt>

        {/* E */}
        <Txt x={6} y={528} s={13} b>E</Txt>
        <Txt x={21.7} y={593} s={12} b r>Methylation (%)</Txt>

        {/* F */}
        <Txt x={478} y={529} s={13} b>F</Txt>
        <Txt x={621.7} y={539.3} s={12}>chr2:10,136,887-10,157,903</Txt>
        <Txt x={710} y={539.3} s={11}>(%)</Txt>
        <Txt x={486.7} y={588} s={12} b r>WGBS</Txt>
        <line x1={497.7} x2={497.7} y1={548} y2={628} stroke="#444" strokeWidth={1.5} />
        <Txt x={486.7} y={675} s={12} b r>Targeted BS</Txt>
        <Txt x={502.5} y={675} s={12} b r>(1st-CT #4)</Txt>
        <line x1={513} x2={513} y1={635} y2={717} stroke="#444" strokeWidth={1.5} />
        <Txt x={551} y={557} s={12} a="end">Oocyte</Txt>
        <Txt x={551} y={578.5} s={12} a="end">Sperm</Txt>
        <Txt x={551} y={599.5} s={12} a="end">Blast</Txt>
        <Txt x={551} y={621} s={12} a="end">1st-CT#6</Txt>
        <Txt x={547} y={644} s={12} a="end">M</Txt>
        <Txt x={546} y={665.5} s={12} a="end">P</Txt>
        <Txt x={550} y={699} s={12} a="end">[M-P]</Txt>
        <line x1={555.7} x2={590} y1={724.3} y2={724.3} stroke="#111" strokeWidth={1} />
        <path d="M559.5,722.3 L562,724.3 L559.5,726.3 M568,722.3 L570.5,724.3 L568,726.3 M576,722.3 L578.5,724.3 L576,726.3"
          stroke="#111" fill="none" strokeWidth={1} />
        <line x1={570} x2={570} y1={721.5} y2={727} stroke="#111" />
        <line x1={575} x2={575} y1={721.5} y2={727} stroke="#111" />
        <rect x={583} y={721.5} width={12} height={5.6} fill="#111" />
        <Txt x={574} y={737} s={11} i>GRHL1</Txt>
        <rect x={667.7} y={720.8} width={25.6} height={7} fill={NAVY} />
        <Txt x={680} y={737} s={11}>pDMR</Txt>
      </svg>
    </div>
  );
}
